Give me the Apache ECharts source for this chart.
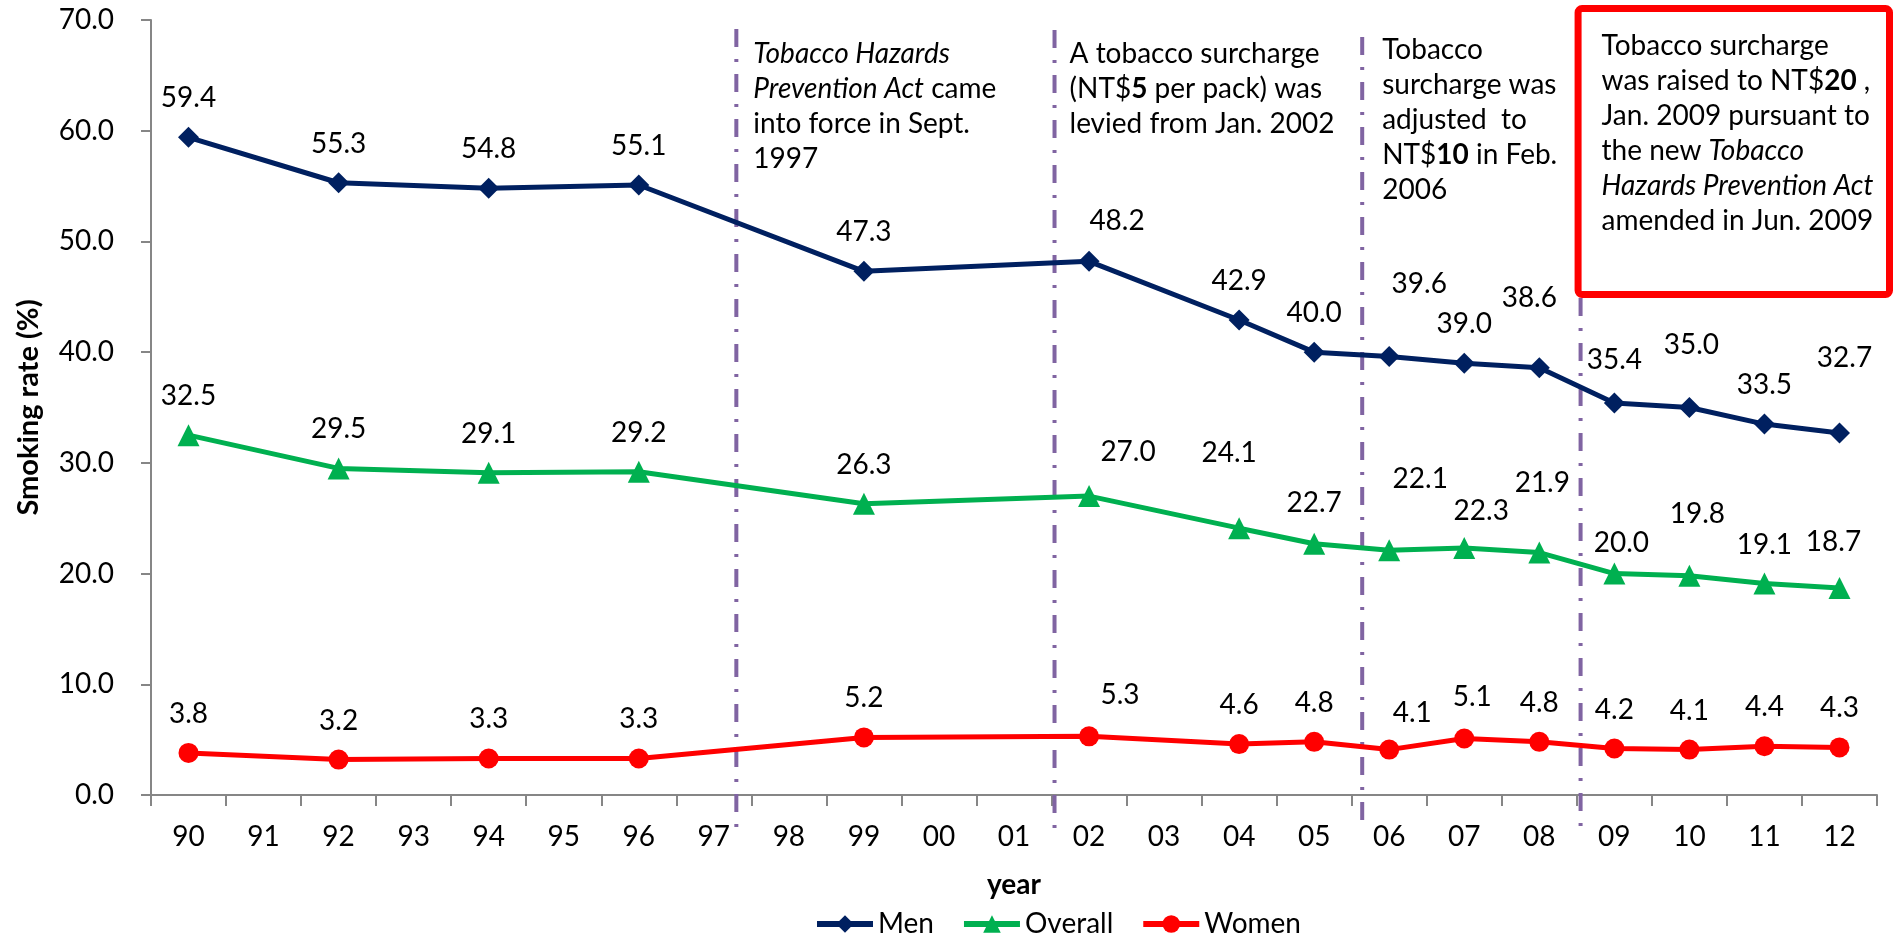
<!DOCTYPE html>
<html>
<head>
<meta charset="utf-8">
<script src="https://cdn.jsdelivr.net/npm/echarts@6/dist/echarts.min.js"></script>
<style>
html,body{margin:0;padding:0;background:#fff;}
#chart{width:1895px;height:937px;}
</style>
</head>
<body>
<div id="chart"></div>
<script>
// ---- data ----
const years = ['90','91','92','93','94','95','96','97','98','99','00','01','02','03','04','05','06','07','08','09','10','11','12'];
const men     = [59.4, null, 55.3, null, 54.8, null, 55.1, null, null, 47.3, null, null, 48.2, null, 42.9, 40.0, 39.6, 39.0, 38.6, 35.4, 35.0, 33.5, 32.7];
const overall = [32.5, null, 29.5, null, 29.1, null, 29.2, null, null, 26.3, null, null, 27.0, null, 24.1, 22.7, 22.1, 22.3, 21.9, 20.0, 19.8, 19.1, 18.7];
const women   = [3.8, null, 3.2, null, 3.3, null, 3.3, null, null, 5.2, null, null, 5.3, null, 4.6, 4.8, 4.1, 5.1, 4.8, 4.2, 4.1, 4.4, 4.3];
const yTicks = [0, 10, 20, 30, 40, 50, 60, 70];

// ---- label nudges (style only) ----
const FONT = 'Lato, "Liberation Sans", sans-serif';
const DEFAULT_OFFSET = [0, -39];
const menNudge = {12:[28,-40], 16:[30,-73], 18:[-10,-70], 19:[0,-43], 20:[2,-63], 22:[5,-75]};
const overallNudge = {12:[39,-44], 14:[-10,-75], 15:[0,-41], 16:[31,-71], 17:[17,-37], 18:[3,-70], 19:[7,-31], 20:[8,-62], 22:[-6,-46]};
const womenNudge = {12:[31,-41], 16:[23,-37], 17:[8,-42]};

// event marker positions in category-index units (fractional)
const eventPos = [7.30, 11.54, 15.64, 18.55];

function items(arr, nudge){
  return arr.map((v,i)=> v==null ? null : {value:v, label:{offset: nudge[i] || DEFAULT_OFFSET}});
}

function mkSeries(name, arr, nudge, color, symbol, size){
  return {
    name, type:'line', data: items(arr, nudge), connectNulls:true,
    symbol, symbolSize:size, showAllSymbol:true,
    lineStyle:{color, width:5}, itemStyle:{color},
    label:{show:true, position:'inside', color:'#000', fontFamily:FONT, fontSize:28,
      formatter:p=>Number(p.value).toFixed(1)},
    emphasis:{disabled:true}, animation:false, z:3
  };
}

const chart = echarts.init(document.getElementById('chart'), null, {renderer:'canvas'});
chart.setOption({
  backgroundColor:'#fff',
  animation:false,
  grid:{left:151, right:18, top:20, bottom:142, containLabel:false},
  xAxis:{
    type:'category', data:years, boundaryGap:true,
    name:'year', nameLocation:'middle', nameGap:76,
    nameTextStyle:{fontFamily:FONT, fontSize:28, fontWeight:'bold', color:'#000'},
    axisLine:{show:true, lineStyle:{color:'#868686', width:2}},
    axisTick:{show:true, interval:0, length:11, lineStyle:{color:'#868686', width:2}},
    axisLabel:{interval:0, margin:28, fontFamily:FONT, fontSize:28, color:'#000'},
    splitLine:{show:false}
  },
  yAxis:{
    type:'value', min:yTicks[0], max:yTicks[yTicks.length-1], interval:10,
    name:'Smoking rate (%)', nameLocation:'middle', nameGap:108, nameRotate:90,
    nameTextStyle:{fontFamily:FONT, fontSize:29, fontWeight:'bold', color:'#000'},
    axisLine:{show:true, lineStyle:{color:'#868686', width:2}},
    axisTick:{show:true, length:10, lineStyle:{color:'#868686', width:2}},
    axisLabel:{margin:37, fontFamily:FONT, fontSize:28, color:'#000', formatter:v=>v.toFixed(1)},
    splitLine:{show:false}
  },
  legend:{
    data:['Men','Overall','Women'], left:809, top:905,
    itemWidth:56, itemHeight:22, itemGap:27,
    textStyle:{fontFamily:FONT, fontSize:28, color:'#000'},
    lineStyle:{width:6}
  },
  series:[
    mkSeries('Men', men, menNudge, '#002060', 'diamond', 21),
    mkSeries('Overall', overall, overallNudge, '#00B050', 'triangle', 22),
    mkSeries('Women', women, womenNudge, '#FF0000', 'circle', 20)
  ]
});

// ---- annotations ----
const p0 = chart.convertToPixel({xAxisIndex:0}, 0);
const p1 = chart.convertToPixel({xAxisIndex:0}, 1);
const step = p1 - p0;
const xs = eventPos.map(e => p0 + e*step);
const lineTops = [29, 30, 37, 298];
const LINE_BOTTOM = 829;
const purple = '#8064A2';

const rich = {
  n:{fontFamily:FONT, fontSize:28, lineHeight:35, color:'#000'},
  i:{fontFamily:FONT, fontSize:28, lineHeight:35, color:'#000', fontStyle:'italic'},
  b:{fontFamily:FONT, fontSize:28, lineHeight:35, color:'#000', fontWeight:'bold'}
};
const texts = [
  '{i|Tobacco Hazards}\n{i|Prevention Act}{n| came}\n{n|into force in Sept.}\n{n|1997}',
  '{n|A tobacco surcharge}\n{n|(NT$}{b|5}{n| per pack) was}\n{n|levied from Jan. 2002}',
  '{n|Tobacco}\n{n|surcharge was}\n{n|adjusted  to}\n{n|NT$}{b|10}{n| in Feb.}\n{n|2006}',
  '{n|Tobacco surcharge}\n{n|was raised to NT$}{b|20}{n| ,}\n{n|Jan. 2009 pursuant to}\n{n|the new }{i|Tobacco}\n{i|Hazards Prevention Act}\n{n|amended in Jun. 2009}'
];
const textDx = [17, 15, 20, 21];
const textTop = [36, 36, 32, 28];

const graphics = [];
xs.forEach((x,k)=>{
  graphics.push({
    type:'line', z:1, silent:true,
    shape:{x1:x, y1:lineTops[k], x2:x, y2:LINE_BOTTOM},
    style:{stroke:purple, lineWidth:4, lineDash:[18,12,3,12]}
  });
});
graphics.push({
  type:'rect', z:5, silent:true,
  shape:{x:xs[3]-2.5, y:8.5, width:1889.5-(xs[3]-2.5), height:286, r:4},
  style:{fill:'rgba(255,255,255,0)', stroke:'#FF0000', lineWidth:7}
});
xs.forEach((x,k)=>{
  graphics.push({
    type:'text', z:6, silent:true, x:x+textDx[k], y:textTop[k],
    style:{text:texts[k], rich, fontFamily:FONT, fontSize:28, lineHeight:35, fill:'#000', verticalAlign:'top', align:'left'}
  });
});
chart.setOption({graphic:graphics});
</script>
</body>
</html>
